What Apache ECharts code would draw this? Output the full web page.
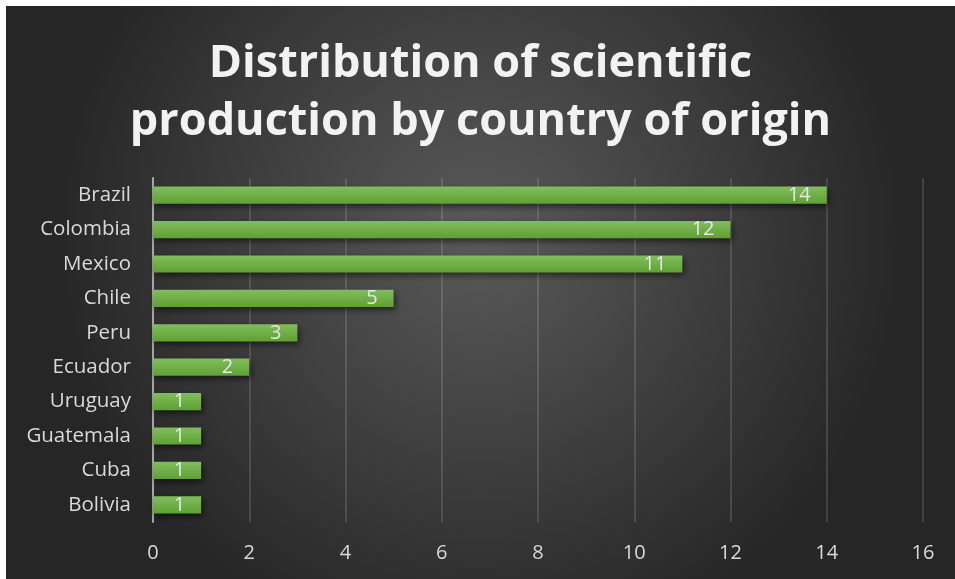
<!DOCTYPE html>
<html>
<head>
<meta charset="utf-8">
<script src="https://cdn.jsdelivr.net/npm/echarts@6/dist/echarts.min.js"></script>
<style>
  html, body { margin: 0; padding: 0; background: #ffffff; }
  #myChart { position: absolute; left: 6px; top: 6px; width: 949px; height: 573px; }
</style>
</head>
<body>
<div id="myChart"></div>
<script>
// data
const countries = ["Brazil", "Colombia", "Mexico", "Chile", "Peru", "Ecuador", "Uruguay", "Guatemala", "Cuba", "Bolivia"];
const publications = [14, 12, 11, 5, 3, 2, 1, 1, 1, 1];
const xTicks = { min: 0, max: 16, interval: 2 };

const myChart = echarts.init(document.getElementById("myChart"));
myChart.setOption({
  backgroundColor: {
    type: "radial",
    x: 0.5, y: 0.4, r: 0.75,
    colorStops: [
      { offset: 0, color: "#5a5a5a" },
      { offset: 1, color: "#262626" }
    ]
  },
  title: {
    text: "Distribution of scientific\nproduction by country of origin",
    left: "center",
    top: 24,
    textStyle: {
      color: "#f2f2f2",
      fontFamily: "Open Sans",
      fontWeight: "bold",
      fontSize: 45,
      lineHeight: 58
    }
  },
  grid: {
    left: 147,
    right: 32,
    top: 172,
    bottom: 57,
    containLabel: false
  },
  xAxis: {
    type: "value",
    min: xTicks.min,
    max: xTicks.max,
    interval: xTicks.interval,
    axisLine: { show: false },
    axisTick: { show: false },
    axisLabel: { color: "#d9d9d9", fontSize: 20, fontFamily: "Open Sans", margin: 21 },
    splitLine: { lineStyle: { color: "rgba(255,255,255,0.13)", width: 2 } }
  },
  yAxis: {
    type: "category",
    inverse: true,
    data: countries,
    axisLine: { show: true, lineStyle: { color: "#a6a6a6", width: 2 } },
    axisTick: { show: false },
    axisLabel: { color: "#d9d9d9", fontSize: 20.5, fontFamily: "Open Sans", margin: 22 }
  },
  series: [
    {
      type: "bar",
      data: publications,
      barWidth: "50%",
      itemStyle: {
        color: {
          type: "linear", x: 0, y: 0, x2: 0, y2: 1,
          colorStops: [
            { offset: 0, color: "#81bd5e" },
            { offset: 1, color: "#5ea131" }
          ]
        },
        shadowColor: "rgba(0,0,0,0.55)",
        shadowBlur: 6,
        shadowOffsetX: 2,
        shadowOffsetY: 3
      },
      label: {
        show: true,
        position: "insideRight",
        distance: 16,
        color: "#e6e6e6",
        fontSize: 20,
        fontFamily: "Open Sans"
      }
    }
  ]
});
</script>
</body>
</html>
